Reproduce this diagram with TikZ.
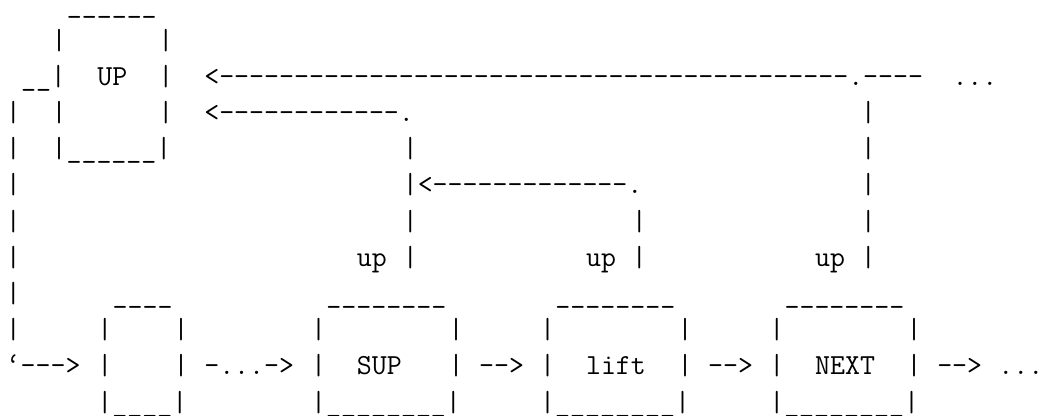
\documentclass[tikz,border=0pt]{standalone}
\usepackage{fontspec}
\newcommand\dshrun[1]{\ifnum#1>0 -\kern0pt\expandafter\dshrun\expandafter{\the\numexpr#1-1\relax}\fi}
\newcommand\udsrun[1]{\ifnum#1>0 \textunderscore\kern0pt\expandafter\udsrun\expandafter{\the\numexpr#1-1\relax}\fi}
\newcommand\place[3]{\node[txt] (t#1x#2) at ({5.77+15.27*#2},{-13-36.2*#1}) {#3};}
\begin{document}
\begin{tikzpicture}[x=0.5pt,y=0.5pt,
  txt/.style={anchor=base west,inner sep=0pt,outer sep=0pt,
    font=\ttfamily\fontsize{14.54}{16}\selectfont}]
\useasboundingbox (0,0) rectangle (1044,-416);
% row 0
\node[txt,text height=1pt,text depth=2pt] (t0x4) at ({5.77+15.27*4},-13) {\udsrun{6}};
% row 1
\place{1}{3}{|}\place{1}{10}{|}
% row 2
\place{2}{1}{\udsrun{2}|}\place{2}{6}{UP}\place{2}{10}{|}
\place{2}{13}{<\dshrun{42}.\dshrun{4}}\place{2}{62}{...}
% row 3
\place{3}{0}{|}\place{3}{3}{|}\place{3}{10}{|}
\place{3}{13}{<\dshrun{12}.}\place{3}{56}{|}
% row 4
\place{4}{0}{|}\place{4}{3}{|\udsrun{6}|}\place{4}{26}{|}\place{4}{56}{|}
% row 5
\place{5}{0}{|}\place{5}{26}{|<\dshrun{13}.}\place{5}{56}{|}
% row 6
\place{6}{0}{|}\place{6}{26}{|}\place{6}{41}{|}\place{6}{56}{|}
% row 7
\place{7}{0}{|}\place{7}{23}{up}\place{7}{26}{|}
\place{7}{38}{up}\place{7}{41}{|}\place{7}{53}{up}\place{7}{56}{|}
% row 8
\place{8}{0}{|}\place{8}{7}{\udsrun{4}}\place{8}{21}{\udsrun{8}}
\place{8}{36}{\udsrun{8}}\place{8}{51}{\udsrun{8}}
% row 9
\place{9}{0}{|}\place{9}{6}{|}\place{9}{11}{|}\place{9}{20}{|}\place{9}{29}{|}
\place{9}{35}{|}\place{9}{44}{|}\place{9}{50}{|}\place{9}{59}{|}
% row 10
\place{10}{0}{‘\dshrun{3}>}\place{10}{6}{|}\place{10}{11}{|}
\place{10}{13}{-\kern0pt...\kern0pt-\kern0pt>}\place{10}{20}{|}\place{10}{23}{SUP}\place{10}{29}{|}
\place{10}{31}{\dshrun{2}>}\place{10}{35}{|}\place{10}{38}{lift}\place{10}{44}{|}
\place{10}{46}{\dshrun{2}>}\place{10}{50}{|}\place{10}{53}{NEXT}\place{10}{59}{|}
\place{10}{61}{\dshrun{2}>}\place{10}{65}{...}
% row 11
\place{11}{6}{|\udsrun{4}|}\place{11}{20}{|\udsrun{8}|}
\place{11}{35}{|\udsrun{8}|}\place{11}{50}{|\udsrun{8}|}
\end{tikzpicture}
\end{document}
